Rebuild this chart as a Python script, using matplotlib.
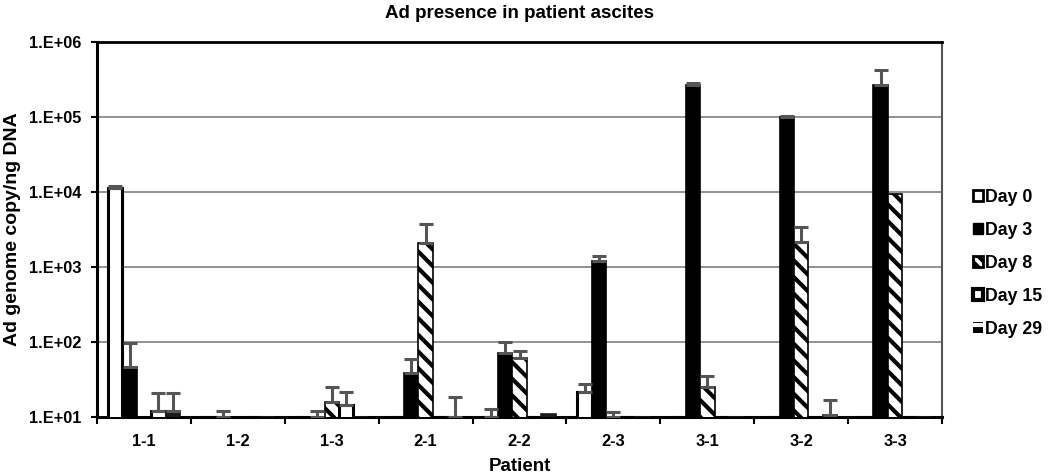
import math
import numpy as np
import matplotlib
matplotlib.use("Agg")
import matplotlib.pyplot as plt
import matplotlib.patches as mpatches
from matplotlib.ticker import FuncFormatter, FixedLocator

patients = ["1-1", "1-2", "1-3", "2-1", "2-2", "2-3", "3-1", "3-2", "3-3"]
days = ["Day 0", "Day 3", "Day 8", "Day 15", "Day 29"]

# bar values (10 = nothing above the axis floor)
day0 = [11300, 10, 10, 10, 10, 21.5, 10, 10, 10]
day3 = [46, 10, 10, 38.6, 71, 1200, 270000, 100000, 270000]
day8 = [10, 10, 16, 2090, 61, 10, 25, 2150, 9500]
day15 = [12, 10, 14.5, 10, 10, 10, 10, 10, 10]
day29 = [12, 10, 10, 10, 11, 10, 10, 10.5, 10]

# top of the error bar (nan = no error bar)
nan = float("nan")
day0_err = [12000, nan, nan, nan, 12.8, 27.5, nan, nan, nan]
day3_err = [97, 12, 12, 59, 100, 1400, 285000, 104000, 424000]
day8_err = [nan, nan, 25, 3740, 75, 11.7, 35, 3400, nan]
day15_err = [21, nan, 21.5, nan, nan, nan, nan, nan, nan]
day29_err = [21, nan, nan, 18.5, nan, nan, nan, 16.8, nan]

values = [day0, day3, day8, day15, day29]
err_tops = [day0_err, day3_err, day8_err, day15_err, day29_err]
styles = [
    dict(facecolor="white", edgecolor="black", hatch=None),
    dict(facecolor="black", edgecolor="black", hatch=None),
    dict(facecolor="white", edgecolor="black", hatch="\\\\"),
    dict(facecolor="white", edgecolor="black", hatch=None),
    dict(facecolor="#1a1a1a", edgecolor="#1a1a1a", hatch=None),
]

plt.rcParams["font.family"] = ["Liberation Sans", "DejaVu Sans"]
plt.rcParams["font.weight"] = "bold"
plt.rcParams["hatch.linewidth"] = 3.0

fig = plt.figure(figsize=(10.5, 4.76), dpi=100)
ax = fig.add_axes([97 / 1050, 59 / 476, 845 / 1050, 375 / 476])
ax.set_yscale("log")

n = len(patients)
w = 1 / 6.5
x = np.arange(n)
for i, (vals, tops, st) in enumerate(zip(values, err_tops, styles)):
    pos = x + (i - 2) * w
    lw = 2.2 if i in (0, 3) else 1.2
    ax.bar(pos, vals, width=w, linewidth=lw, zorder=3, **st)
    v = np.array(vals, dtype=float)
    t = np.array(tops, dtype=float)
    ok = ~np.isnan(t)
    ax.errorbar(pos[ok], v[ok], yerr=[np.zeros(ok.sum()), t[ok] - v[ok]],
                fmt="none", ecolor="#555555", elinewidth=2.2, capsize=5,
                capthick=2.2, zorder=4)

ax.set_ylim(10, 1e6)
ax.set_xlim(-0.5, n - 0.5)
ax.yaxis.grid(True, color="#8a8a8a", linewidth=1.3, zorder=0)
ax.yaxis.set_major_formatter(FuncFormatter(lambda y, p: "1.E+%02d" % round(math.log10(y))))
ax.yaxis.set_minor_locator(FixedLocator([]))
ax.tick_params(axis="y", which="major", direction="out", length=4, width=1.5,
               labelsize=11.8, pad=7)

ax.set_xticks(np.arange(n + 1) - 0.5)
ax.set_xticklabels([])
ax.set_xticks(x, minor=True)
ax.set_xticklabels(patients, minor=True)
ax.tick_params(axis="x", which="major", direction="out", length=5, width=1.5)
ax.tick_params(axis="x", which="minor", length=0, labelsize=11.8, pad=12)

for side in ["left", "bottom"]:
    ax.spines[side].set_linewidth(2.2)
ax.spines["top"].set_linewidth(2.0)
ax.spines["right"].set_color("#555555")
ax.spines["right"].set_linewidth(1.5)

ax.set_title("Ad presence in patient ascites", fontsize=13.5, fontweight="bold", pad=17)
ax.set_ylabel("Ad genome copy/ng DNA", fontsize=14, fontweight="bold", labelpad=6)
ax.set_xlabel("Patient", fontsize=13.5, fontweight="bold", labelpad=7)

# legend patches
handles = [
    mpatches.Patch(facecolor="white", edgecolor="black", linewidth=2),
    mpatches.Patch(facecolor="black", edgecolor="black"),
    mpatches.Patch(facecolor="white", edgecolor="black", hatch="\\\\\\", linewidth=2),
    mpatches.Patch(facecolor="white", edgecolor="black", linewidth=3),
    mpatches.Patch(facecolor="black", edgecolor="white", hatch="-", linewidth=0),
]
leg = ax.legend(handles, days, loc="center left", bbox_to_anchor=(1.028, 0.41),
                frameon=False, fontsize=12.8, handlelength=0.55, handleheight=0.55,
                handletextpad=0.15, labelspacing=0.9, borderaxespad=0)
for t in leg.get_texts():
    t.set_fontweight("bold")

fig.savefig("out.png", dpi=100)
